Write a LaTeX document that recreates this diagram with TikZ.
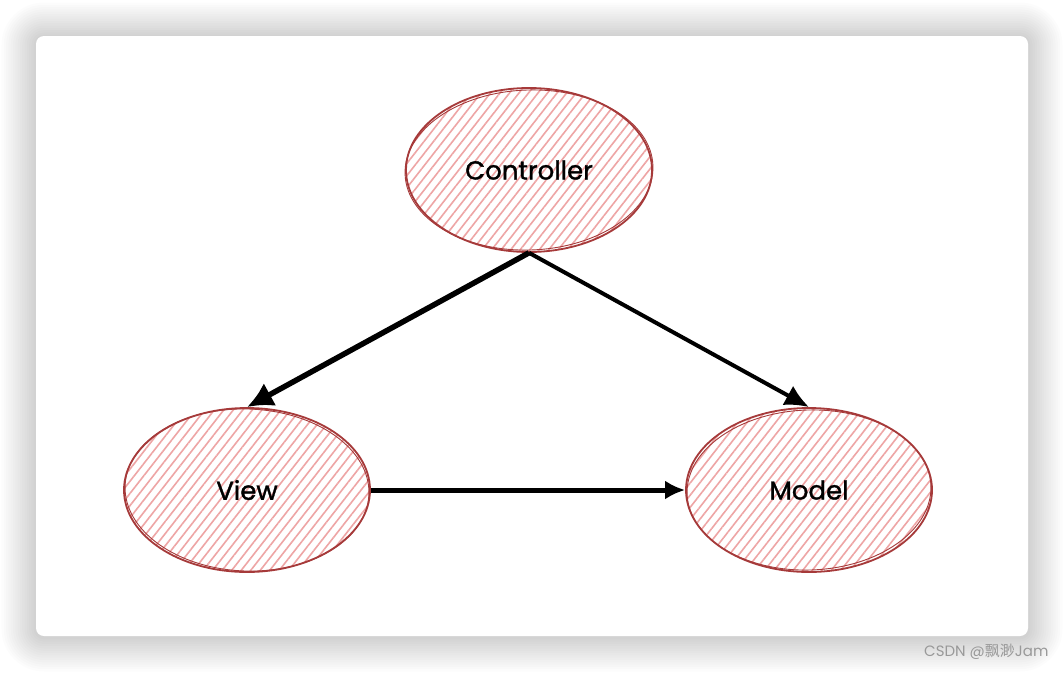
\documentclass[tikz,border=0pt]{standalone}
\usepackage{fontspec}
\setmainfont{Poppins}
\newfontfamily\labelfont{Poppins}[FakeBold=1.2]
\newfontfamily\cjkfont{Noto Sans CJK SC}
\usepackage{tikz}
\usetikzlibrary{arrows.meta,positioning,shapes.geometric,patterns.meta}

\definecolor{rim}{RGB}{166,58,58}
\definecolor{hatch}{RGB}{238,165,165}

\begin{document}
\begin{tikzpicture}[
  x=1pt, y=-1pt,
  part/.style={
    ellipse,
    draw=rim,
    line width=1.8pt,
    inner sep=0pt,
    minimum width=246pt,
    minimum height=164pt,
    pattern={Lines[angle=52,distance=7.5pt,line width=1.6pt]},
    pattern color=hatch,
    font=\labelfont\fontsize{26}{30}\selectfont
  },
  sketch/.style={draw=rim, line width=0.9pt},
  flow/.style={-{Latex[length=26pt,width=26pt]}, line width=5.5pt, draw=black},
  thinflow/.style={-{Latex[length=24pt,width=22pt]}, line width=4pt, draw=black},
  shortflow/.style={-{Latex[length=20pt,width=19pt]}, line width=5pt, draw=black}
]

\useasboundingbox (0,0) rectangle (1064,672);

% card with soft shadow
\foreach \s in {1,...,15}
  \fill[black, opacity=0.012, rounded corners={8pt+\s*2.3pt}]
    (36-\s*2.3,37-\s*2.3) rectangle (1028+\s*2.3,637+\s*2.3);
\fill[white, rounded corners=8pt] (36,36) rectangle (1028,636);

\node[part] (ctrl) at (529,170) {Controller};
\node[part] (view) at (247,490) {View};
\node[part] (model) at (809,490) {Model};

% second sketch strokes
\draw[sketch] (ctrl.center) ellipse [x radius=124pt, y radius=80pt, rotate=2];
\draw[sketch] (view.center) ellipse [x radius=122pt, y radius=81pt, rotate=-2];
\draw[sketch] (model.center) ellipse [x radius=122pt, y radius=80pt, rotate=2];

\draw[flow] (ctrl.south) -- (view.north);
\draw[thinflow] (ctrl.south) -- (model.north);
\draw[shortflow] (view.east) -- (model.west);

\node[text=black!40, anchor=east, font=\fontsize{15}{18}\selectfont] (mark) at (1052,652)
  {CSDN @{\cjkfont 飘渺}Jam};

\end{tikzpicture}
\end{document}
